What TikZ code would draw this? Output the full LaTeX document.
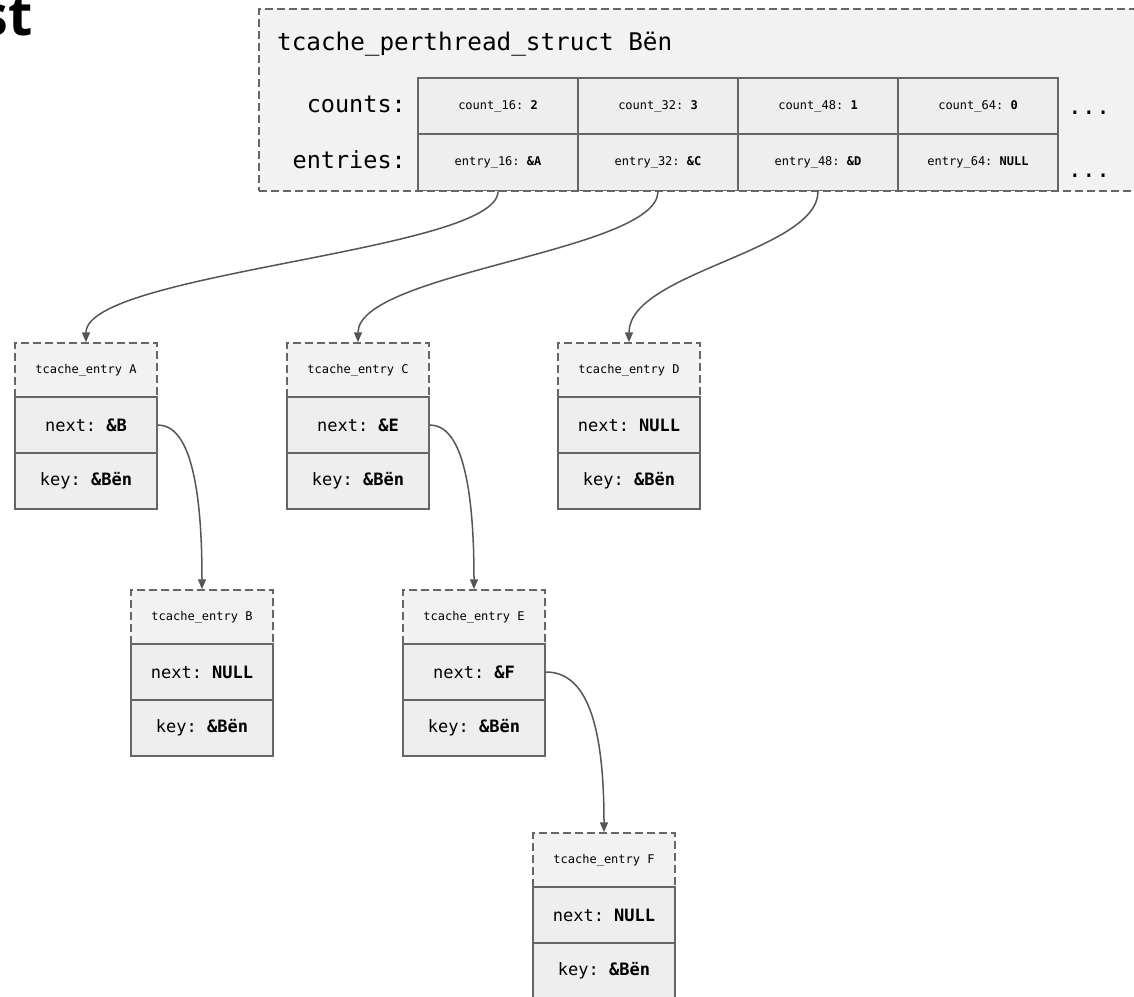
\documentclass[tikz,border=0pt]{standalone}
\usepackage{fontspec}
\setmonofont{DejaVu Sans Mono}
\newfontfamily\headfont{Open Sans}
\usetikzlibrary{arrows.meta}
\definecolor{edgecol}{HTML}{666666}
\definecolor{cellbg}{HTML}{EEEEEE}
\definecolor{boxbg}{HTML}{F2F2F2}
\definecolor{arrcol}{HTML}{555555}
\newcommand\entrystruct[5]{%
  \node[hdrbox] (#1h) at (#2+71,#3+27) {tcache\_entry #4};
  \node[fldbox] (#1n) at (#2+71,#3+82) {next: \textbf{#5}};
  \node[fldbox] (#1k) at (#2+71,#3+138) {key: \textbf{\&Bën}};
}
\begin{document}
\begin{tikzpicture}[x=1pt,y=-1pt,font=\ttfamily,
  framebox/.style={draw=edgecol,dash pattern=on 8pt off 4pt,line width=1.5pt,fill=boxbg,inner sep=0pt},
  cellbox/.style={draw=edgecol,line width=1.8pt,fill=cellbg,minimum width=160pt,minimum height=56pt,inner sep=0pt,font=\ttfamily\fontsize{12}{14}\selectfont},
  hdrbox/.style={draw=edgecol,dash pattern=on 8pt off 4pt,line width=1.5pt,fill=boxbg,minimum width=142pt,minimum height=54pt,inner sep=0pt,font=\ttfamily\fontsize{12}{14}\selectfont},
  fldbox/.style={draw=edgecol,line width=1.8pt,fill=cellbg,minimum width=142pt,minimum height=56pt,inner sep=0pt,font=\ttfamily\fontsize{17}{20}\selectfont},
  biglabel/.style={inner sep=0pt,font=\ttfamily\fontsize{23.5}{26}\selectfont},
  arr/.style={draw=arrcol,line width=1.5pt,-{Triangle[length=10pt,width=8pt]}}]
\useasboundingbox (0,0) rectangle (1134,996);
\node[anchor=base east,inner sep=0pt,font=\headfont\bfseries\fontsize{56}{60}\selectfont] (head) at (33,35) {st};
% per-thread struct
\node[framebox,anchor=north west,minimum width=900pt,minimum height=182pt] (pts) at (258,8) {};
\node[biglabel,anchor=base west,font=\ttfamily\fontsize{24.3}{27}\selectfont] (title) at (277,50) {tcache\_perthread\_struct Bën};
\node[biglabel,anchor=base east] (lcounts) at (406,112) {counts:};
\node[biglabel,anchor=base east] (lentries) at (406,168) {entries:};
\node[cellbox] (c16) at (498,106) {count\_16: \textbf{2}};
\node[cellbox] (c32) at (658,106) {count\_32: \textbf{3}};
\node[cellbox] (c48) at (818,106) {count\_48: \textbf{1}};
\node[cellbox] (c64) at (978,106) {count\_64: \textbf{0}};
\node[cellbox] (e16) at (498,162.5) {entry\_16: \textbf{\&A}};
\node[cellbox] (e32) at (658,162.5) {entry\_32: \textbf{\&C}};
\node[cellbox] (e48) at (818,162.5) {entry\_48: \textbf{\&D}};
\node[cellbox] (e64) at (978,162.5) {entry\_64: \textbf{NULL}};
\node[biglabel,anchor=base] (dots1) at (1089,114) {...};
\node[biglabel,anchor=base] (dots2) at (1089,177) {...};
% entries
\entrystruct{A}{15}{343}{A}{\&B}
\entrystruct{C}{287}{343}{C}{\&E}
\entrystruct{D}{558}{343}{D}{NULL}
\entrystruct{B}{131}{590}{B}{NULL}
\entrystruct{E}{403}{590}{E}{\&F}
\entrystruct{F}{533}{833}{F}{NULL}
% connectors
\draw[arr] (e16.south) .. controls +(0,60) and +(0,-70) .. (Ah.north);
\draw[arr] (e32.south) .. controls +(0,60) and +(0,-70) .. (Ch.north);
\draw[arr] (e48.south) .. controls +(0,60) and +(0,-70) .. (Dh.north);
\draw[arr] (An.east) .. controls +(30,0) and +(0,-110) .. (Bh.north);
\draw[arr] (Cn.east) .. controls +(30,0) and +(0,-110) .. (Eh.north);
\draw[arr] (En.east) .. controls +(40,0) and +(0,-110) .. (Fh.north);
\end{tikzpicture}
\end{document}
